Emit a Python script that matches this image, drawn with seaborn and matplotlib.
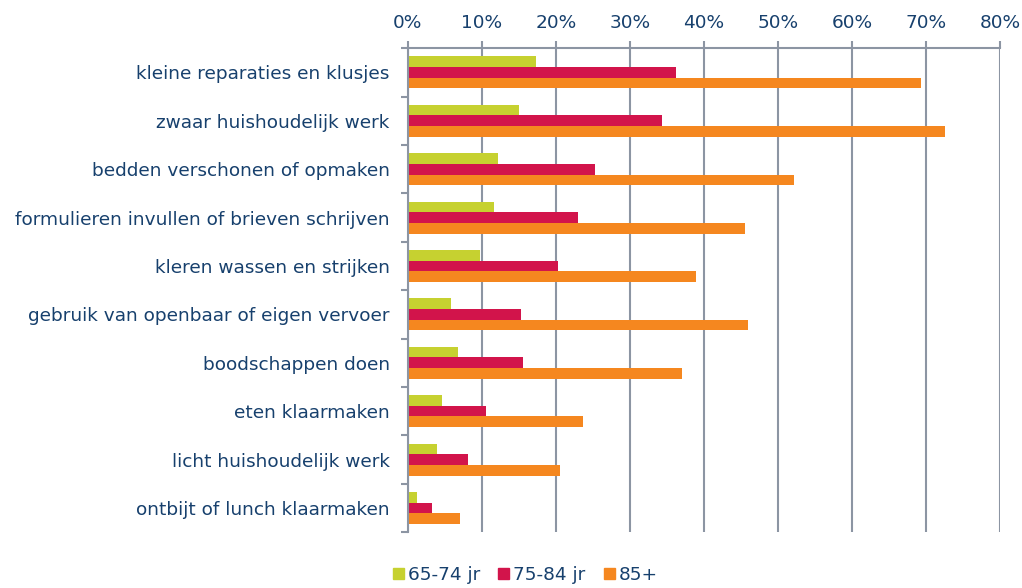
import matplotlib
matplotlib.use("Agg")
import matplotlib.pyplot as plt
import numpy as np
import pandas as pd
import seaborn as sns
from matplotlib.ticker import FixedLocator, PercentFormatter

# Hulpbehoefte per activiteit, naar leeftijdsgroep (in procenten)
ACTIVITEITEN = [
    "kleine reparaties en klusjes",
    "zwaar huishoudelijk werk",
    "bedden verschonen of opmaken",
    "formulieren invullen of brieven schrijven",
    "kleren wassen en strijken",
    "gebruik van openbaar of eigen vervoer",
    "boodschappen doen",
    "eten klaarmaken",
    "licht huishoudelijk werk",
    "ontbijt of lunch klaarmaken",
]
GROEPEN = ["65-74 jr", "75-84 jr", "85+"]
WAARDEN_65_74 = [17.3, 15.0, 12.2, 11.6, 9.8, 5.8, 6.8, 4.6, 4.0, 1.3]
WAARDEN_75_84 = [36.2, 34.4, 25.3, 23.0, 20.3, 15.3, 15.5, 10.6, 8.1, 3.3]
WAARDEN_85_PLUS = [69.3, 72.5, 52.2, 45.5, 39.0, 46.0, 37.1, 23.7, 20.6, 7.1]
X_TICKS = [0, 10, 20, 30, 40, 50, 60, 70, 80]

KLEUREN = ["#C6D130", "#D2144B", "#F5871F"]
TEKST = "#17406D"
GRIJS = "#8C95A3"
FONTGROOTTE = 13.3

df = pd.DataFrame({
    "Activiteit": ACTIVITEITEN * 3,
    "Groep": np.repeat(GROEPEN, len(ACTIVITEITEN)),
    "Waarde": WAARDEN_65_74 + WAARDEN_75_84 + WAARDEN_85_PLUS,
})

sns.set_style("white")
plt.rcParams["font.family"] = ["DejaVu Sans"]

fig, ax = plt.subplots(figsize=(10.22, 5.88), dpi=100)
fig.subplots_adjust(left=0.399, right=0.9785, top=0.918, bottom=0.095)

sns.barplot(
    data=df, y="Activiteit", x="Waarde", hue="Groep",
    order=ACTIVITEITEN, hue_order=GROEPEN, palette=KLEUREN,
    orient="h", width=0.66, saturation=1, linewidth=0, ax=ax, legend=True,
)

ax.set_xlim(0, 80)
ax.set_ylim(len(ACTIVITEITEN) - 0.5, -0.5)
ax.xaxis.tick_top()
ax.set_xticks(X_TICKS)
ax.xaxis.set_major_formatter(PercentFormatter(decimals=0))
ax.grid(axis="x", color=GRIJS, linewidth=1.5)
ax.set_axisbelow(True)
ax.set_xlabel("")
ax.set_ylabel("")

for kant in ["right", "bottom"]:
    ax.spines[kant].set_visible(False)
for kant in ["top", "left"]:
    ax.spines[kant].set_color(GRIJS)
    ax.spines[kant].set_linewidth(1.5)

ax.tick_params(axis="x", colors=GRIJS, labelcolor=TEKST, labelsize=FONTGROOTTE,
               length=5, width=1.5, pad=7, top=True)
ax.tick_params(axis="y", which="major", length=0, labelcolor=TEKST,
               labelsize=FONTGROOTTE, pad=13)
ax.yaxis.set_minor_locator(FixedLocator(np.arange(-0.5, len(ACTIVITEITEN), 1)))
ax.tick_params(axis="y", which="minor", length=5, width=1.5, colors=GRIJS, left=True)

ax.get_legend().remove()
handles = [plt.Rectangle((0, 0), 1, 1, color=k) for k in KLEUREN]
fig.legend(
    handles, GROEPEN, loc="center", bbox_to_anchor=(0.514, 0.022),
    ncol=3, frameon=False, fontsize=FONTGROOTTE, handlelength=0.6, handleheight=0.6,
    handletextpad=0.2, columnspacing=1.0, labelcolor=TEKST,
)

fig.savefig("out.png", dpi=100)
